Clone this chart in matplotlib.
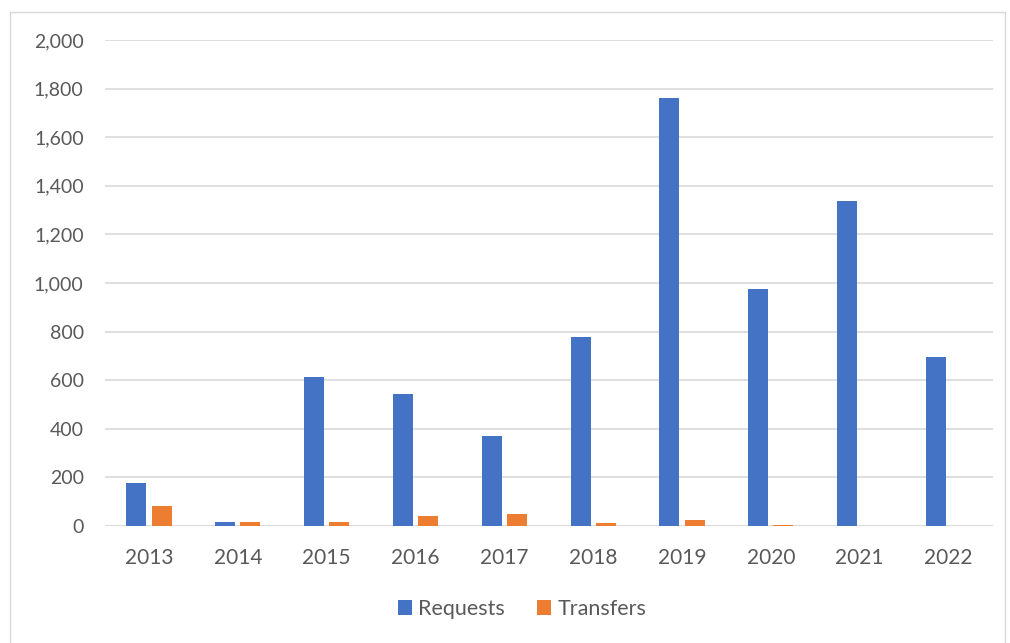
import matplotlib.pyplot as plt
import numpy as np
from matplotlib.patches import Rectangle

# data
years = ['2013', '2014', '2015', '2016', '2017', '2018', '2019', '2020', '2021', '2022']
requests = [175, 15, 615, 545, 372, 777, 1760, 975, 1337, 697]
transfers = [83, 15, 17, 40, 48, 11, 24, 3, 0, 0]

plt.rcParams['font.family'] = ['Lato', 'DejaVu Sans']

fig = plt.figure(figsize=(10.1, 6.43), dpi=100)
ax = fig.add_axes([104.5/1010, 1-526/643, (993-104.5)/1010, 486/643])

x = np.arange(len(years))
w = 0.225
off = 0.142
ax.bar(x - off, requests, w, color='#4472C4', label='Requests', zorder=3)
ax.bar(x + off, transfers, w, color='#ED7D31', label='Transfers', zorder=3)

ax.set_xlim(-0.5, len(years) - 0.5)
ax.set_ylim(0, 2000)
ax.set_yticks(range(0, 2001, 200))
ax.set_yticklabels([f'{v:,}' for v in range(0, 2001, 200)])
ax.set_xticks(x)
ax.set_xticklabels(years)
ax.yaxis.grid(True, color='#D9D9D9', linewidth=1.2, zorder=0)
for s in ax.spines.values():
    s.set_visible(False)
ax.axhline(0, color='#D9D9D9', linewidth=1.2, zorder=2)
ax.tick_params(axis='y', length=0, labelsize=14, colors='#595959', pad=15)
ax.tick_params(axis='x', length=0, labelsize=15, colors='#595959', pad=16)

leg = fig.legend(loc='center', bbox_to_anchor=(522/1010, 1-609/643), ncol=2, frameon=False,
                 fontsize=15.5, handlelength=0.65, handleheight=0.65, columnspacing=1.5,
                 handletextpad=0.3)
for t in leg.get_texts():
    t.set_color('#595959')

# outer chart frame
fig.patches.append(Rectangle((10/1010, -0.01), 0.995 - 10/1010, 1 - 12/643 + 0.01,
                             transform=fig.transFigure, fill=False,
                             edgecolor='#D9D9D9', linewidth=1))

fig.savefig('out.png', dpi=100)
